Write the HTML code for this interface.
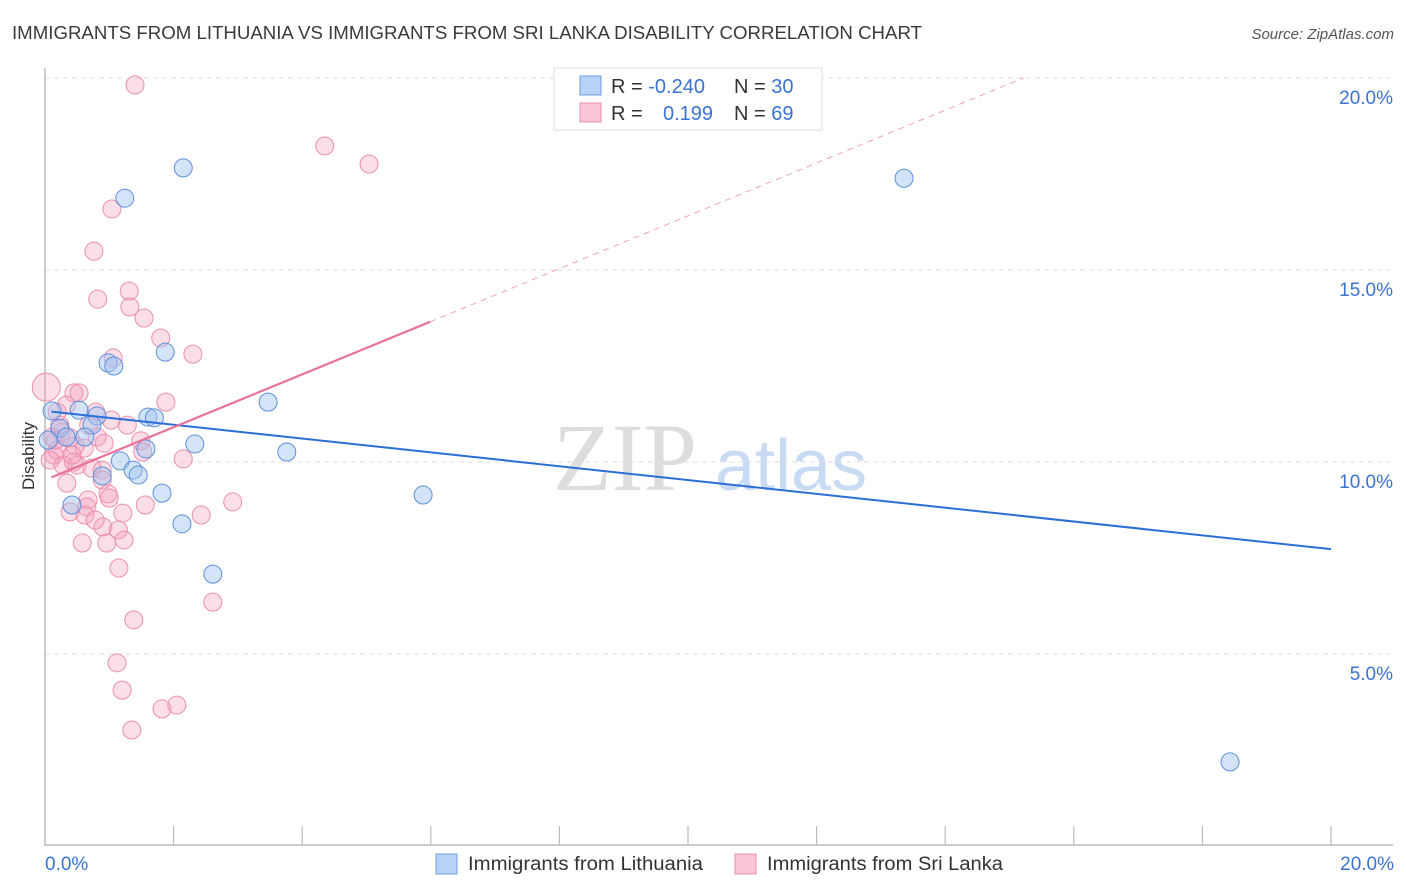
<!DOCTYPE html>
<html><head><meta charset="utf-8"><style>
body{margin:0;background:#fff;font-family:"Liberation Sans",sans-serif;}
svg{display:block}
</style></head><body>
<svg id="chart" width="1406" height="892" xmlns="http://www.w3.org/2000/svg">
<text x="12" y="39" font-size="18.5" fill="#3a3a3a" textLength="910" lengthAdjust="spacingAndGlyphs">IMMIGRANTS FROM LITHUANIA VS IMMIGRANTS FROM SRI LANKA DISABILITY CORRELATION CHART</text>
<text x="1394" y="39" font-size="15" font-style="italic" fill="#555" text-anchor="end">Source: ZipAtlas.com</text>
<text x="553" y="490" font-size="96" font-family="Liberation Serif,serif" fill="#ddd">ZIP</text>
<text x="715" y="490" font-size="72" fill="#c8dbf3">atlas</text>
<g id="grid"></g>
<g id="axes"></g>
<g id="pts"></g>
<g id="lines"></g>
<text transform="translate(34,456) rotate(-90)" font-size="17" fill="#333" text-anchor="middle">Disability</text>
<g>
<rect x="554" y="68" width="268" height="62" fill="#fff" stroke="#ddd"/>
<rect x="580" y="76" width="21" height="19" fill="#b8d3f5" stroke="#6d9ee0"/>
<rect x="580" y="103" width="21" height="19" fill="#f9c6d5" stroke="#ee93b0"/>
<text x="611" y="93" font-size="20" fill="#333">R = <tspan fill="#3a73d1">-0.240</tspan></text>
<text x="734" y="93" font-size="20" fill="#333">N = <tspan fill="#3a73d1">30</tspan></text>
<text x="611" y="120" font-size="20" fill="#333">R = </text>
<text x="663" y="120" font-size="20" fill="#3a73d1">0.199</text>
<text x="734" y="120" font-size="20" fill="#333">N = <tspan fill="#3a73d1">69</tspan></text>
</g>
<g>
<rect x="436" y="854" width="21" height="20" fill="#b8d3f5" stroke="#6d9ee0"/>
<text x="468" y="870" font-size="19" fill="#333" textLength="235" lengthAdjust="spacingAndGlyphs">Immigrants from Lithuania</text>
<rect x="735" y="854" width="21" height="20" fill="#f9c6d5" stroke="#ee93b0"/>
<text x="767" y="870" font-size="19" fill="#333" textLength="236" lengthAdjust="spacingAndGlyphs">Immigrants from Sri Lanka</text>
</g>
</svg>
<script>
const yTicks=[5,10,15,20];
const yTickLabels=["5.0%","10.0%","15.0%","20.0%"];
const xTickLabels=["0.0%","20.0%"];
const blueX=[2.15,1.24,13.36,0.98,1.07,1.87,3.47,0.11,0.53,0.81,1.60,1.70,0.23,0.73,0.33,0.62,2.33,3.76,1.57,1.17,1.37,1.45,0.89,1.82,5.88,0.42,2.13,2.61,18.43,0.05];
const blueY=[17.66,16.87,17.39,12.58,12.50,12.86,11.56,11.33,11.35,11.20,11.17,11.15,10.88,10.96,10.65,10.65,10.47,10.26,10.34,10.03,9.79,9.66,9.64,9.19,9.14,8.88,8.39,7.08,2.19,10.57];
const pinkX=[1.40,4.35,5.04,1.04,0.76,0.82,1.31,1.32,1.54,1.80,2.30,1.06,0.45,0.53,0.02,1.88,0.19,0.79,1.03,1.28,0.68,0.26,0.11,0.39,0.81,0.92,1.49,0.47,0.19,0.14,0.61,1.52,2.15,0.44,0.28,0.50,0.73,0.89,0.34,0.89,0.98,1.00,0.67,1.56,2.92,0.65,0.39,0.62,1.21,2.43,0.90,1.14,0.58,0.96,1.23,1.15,2.61,1.38,1.12,1.20,1.82,2.05,1.35,0.16,0.23,0.42,0.78,0.08,0.33];
const pinkY=[19.82,18.23,17.76,16.59,15.49,14.24,14.45,14.04,13.75,13.23,12.81,12.71,11.80,11.80,11.95,11.56,11.30,11.30,11.09,10.96,10.96,10.78,10.65,10.63,10.65,10.49,10.55,10.42,10.31,10.18,10.36,10.26,10.08,10.00,9.92,9.92,9.84,9.79,9.45,9.53,9.17,9.06,9.01,8.88,8.96,8.83,8.70,8.62,8.67,8.62,8.31,8.23,7.89,7.89,7.97,7.24,6.35,5.89,4.77,4.06,3.57,3.67,3.02,10.57,10.96,10.18,8.49,10.05,11.48];
const blueTrend=[11.33,7.73];
const pinkTrend=[9.53,0.688];
const NS='http://www.w3.org/2000/svg';
const X0=45,X1=1331,Y0=846,YTOP=78;
const sx=v=>X0+v/20*(X1-X0);
const sy=v=>Y0-v/20*(Y0-YTOP);
function mk(t,a,p){const e=document.createElementNS(NS,t);for(const k in a)e.setAttribute(k,a[k]);p.appendChild(e);return e;}
const grid=document.getElementById('grid'),axes=document.getElementById('axes'),pts=document.getElementById('pts'),lines=document.getElementById('lines');
yTicks.forEach((t,i)=>{
 const l=mk('line',{x1:X0,x2:1393,y1:sy(t),y2:sy(t),stroke:'#ddd','stroke-dasharray':'5,4'},grid);
 
 
 const tx=mk('text',{x:1393,y:sy(t)+26,'font-size':19,fill:'#3a73d1','text-anchor':'end'},axes);
 tx.textContent=yTickLabels[i];
 
 
});
let a=mk('line',{x1:X0,x2:X0,y1:68,y2:846,stroke:'#bbb','stroke-width':1.5},axes);


a=mk('line',{x1:X0,x2:1393,y1:845,y2:845,stroke:'#bbb','stroke-width':1.5},axes);


for(let k=1;k<=10;k++){const t=mk('line',{x1:sx(k*2),x2:sx(k*2),y1:826,y2:845,stroke:'#bbb','stroke-width':1.2},axes);
 
 }
let xl=mk('text',{x:45,y:870,'font-size':19,fill:'#3a73d1'},axes);xl.textContent=xTickLabels[0];


xl=mk('text',{x:1394,y:870,'font-size':19,fill:'#3a73d1','text-anchor':'end'},axes);xl.textContent=xTickLabels[1];


pinkX.forEach((v,i)=>{const c=mk('circle',{cx:sx(v),cy:sy(pinkY[i]),r:(v<0.05&&pinkY[i]>11.9)?14:9,fill:'rgba(244,160,188,0.35)',stroke:'#ec8fae','stroke-width':1},pts);
 
 });
blueX.forEach((v,i)=>{const c=mk('circle',{cx:sx(v),cy:sy(blueY[i]),r:9,fill:'rgba(160,195,240,0.45)',stroke:'#5d90dc','stroke-width':1},pts);
 
 });
let L=mk('line',{x1:sx(0.1),y1:sy(blueTrend[0]+(blueTrend[1]-blueTrend[0])*0.005),x2:sx(20),y2:sy(blueTrend[1]),stroke:'#2b6fd6','stroke-width':2},lines);


const pe=5.99,pend=(20-pinkTrend[0])/pinkTrend[1];
L=mk('line',{x1:sx(0.1),y1:sy(pinkTrend[0]+0.1*pinkTrend[1]),x2:sx(pe),y2:sy(pinkTrend[0]+pe*pinkTrend[1]),stroke:'#e8729a','stroke-width':2.2},lines);


L=mk('line',{x1:sx(pe),y1:sy(pinkTrend[0]+pe*pinkTrend[1]),x2:sx(pend),y2:sy(20),stroke:'#f0a5bd','stroke-width':1,'stroke-dasharray':'6,5'},lines);


</script>
</body></html>
